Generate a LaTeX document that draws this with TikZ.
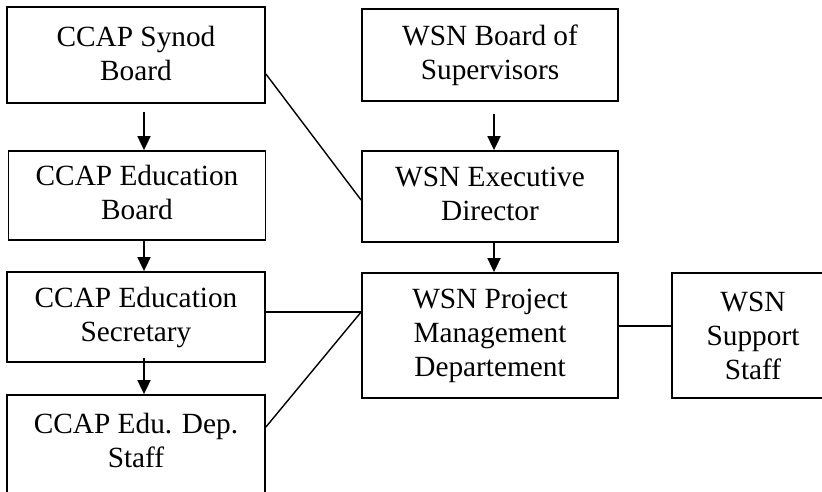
\documentclass[tikz,border=0pt]{standalone}
\usepackage{fontspec}
\setmainfont{Liberation Serif}
\usetikzlibrary{calc,arrows.meta}
\newcommand{\lowstrut}[1]{\rule[-#1pt]{0pt}{#1pt}}
\begin{document}
\begin{tikzpicture}[x=1pt,y=-1pt,
  box/.style={draw,line width=1.8pt,inner sep=0pt,align=center,
    font=\fontsize{29.3}{34}\selectfont},
  arr/.style={line width=1.8pt,-{Triangle[length=14pt,width=13pt]}},
  con/.style={line width=1.4pt}]
\useasboundingbox (0,0) rectangle (822,491);
\clip (0,0) rectangle (822,491);
\fill[white] (0,0) rectangle (822,491);
\node[box,minimum width=258pt,minimum height=96pt] (synod) at (136,55) {CCAP Synod\\Board\lowstrut{4}};
\node[box,minimum width=257pt,minimum height=89pt] (edboard) at (137,195.5) {CCAP Education\\Board\lowstrut{7}};
\node[box,minimum width=258pt,minimum height=90pt] (sec) at (136,317) {CCAP Education\\Secretary};
\node[box,minimum width=258pt,minimum height=98pt] (staff) at (136,444) {CCAP Edu. Dep.\\Staff\lowstrut{7}};
\node[box,minimum width=256pt,minimum height=92pt] (wsnboard) at (490,55) {WSN Board of\\Supervisors};
\node[box,minimum width=256pt,minimum height=91pt] (exec) at (490,196.5) {WSN Executive\\Director\lowstrut{5}};
\node[box,minimum width=256pt,minimum height=125pt] (pm) at (490,335.5) {WSN Project\\Management\\Departement};
\node[box,minimum width=162pt,minimum height=125pt] (support) at (753,335.5) {WSN\\Support\\Staff};
\coordinate (lx) at (144,0);
\coordinate (rx) at (494,0);
\coordinate (pmj) at ($(pm.west)+(0,-23.5)$);
\draw[arr] ($(synod.south -| lx)+(0,8)$) -- (edboard.north -| lx);
\draw[arr] (edboard.south -| lx) -- (sec.north -| lx);
\draw[arr] ($(sec.south -| lx)+(0,-5)$) -- (staff.north -| lx);
\draw[arr] ($(wsnboard.south -| rx)+(0,12)$) -- (exec.north -| rx);
\draw[arr] (exec.south -| rx) -- (pm.north -| rx);
\draw[con] ($(synod.east)+(0,19)$) -- ($(exec.west)+(0,3.5)$);
\draw[con] (sec.east |- pmj) -- (pmj);
\draw[con] ($(staff.east)+(0,-17)$) -- (pmj);
\draw[con] ($(pm.east)+(0,-9.5)$) -- ($(support.west)+(0,-9.5)$);
\end{tikzpicture}
\end{document}
